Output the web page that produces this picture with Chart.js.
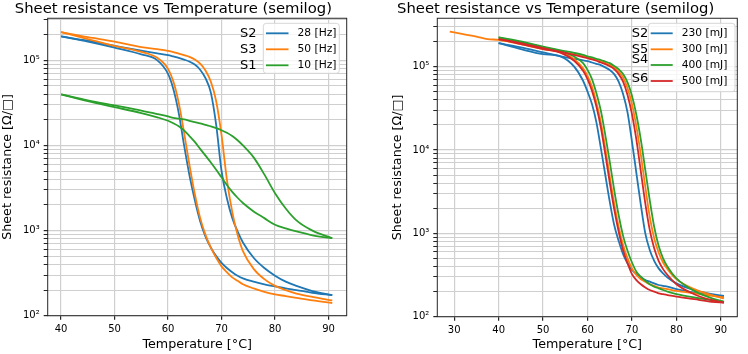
<!DOCTYPE html>
<html>
<head>
<meta charset="utf-8">
<script src="https://cdn.jsdelivr.net/npm/chart.js@4.4.1/dist/chart.umd.min.js"></script>
<style>
  html, body { margin: 0; padding: 0; background: #fff; }
  #wrap { display: flex; width: 748px; height: 354px; }
  canvas { display: block; }
</style>
</head>
<body>
<div id="wrap">
  <canvas id="left" width="374" height="354"></canvas>
  <canvas id="right" width="374" height="354"></canvas>
</div>
<script>
// temperatures [°C]
var tempL = [40, 45, 50, 55, 58, 60, 61, 62, 63, 64, 65, 66, 67, 68, 69, 70, 71, 72, 73, 74, 76, 78, 80, 82, 84, 87, 90.7];
var tempR = [40, 45, 50, 54, 57, 59, 60, 61, 62, 63, 64, 65, 66, 67, 68, 69, 70, 71, 72, 73, 74, 75, 76, 77, 78, 80, 84, 88, 90.7];
var tempS5lead = [29, 32, 35, 37.5];

// sheet resistance [Ω/□] - left panel (pulse frequency)
var s2HzHeat = [191000, 170000, 148000, 130000, 121000, 115000, 111000, 107000, 102000, 96600, 89100, 77600, 61700, 41700, 17400, 5010, 2400, 1410, 977, 724, 479, 363, 295, 251, 224, 195, 174];
var s2HzCool = [191000, 166000, 141000, 117500, 100000, 69200, 45700, 24000, 10000, 4470, 2290, 1290, 851, 631, 501, 417, 363, 324, 295, 275, 251, 234, 221, 209, 200, 186, 174];
var s3HzHeat = [214000, 187000, 166000, 143000, 135000, 129000, 125000, 120000, 115000, 110000, 102000, 91200, 75900, 56200, 33100, 13200, 3980, 1660, 891, 575, 355, 269, 224, 200, 182, 166, 151];
var s3HzCool = [214000, 178000, 148000, 126000, 107000, 79400, 56200, 31600, 14100, 5890, 2690, 1410, 891, 631, 479, 380, 324, 282, 257, 234, 209, 191, 178, 170, 162, 151, 141];
var s1HzHeat = [39800, 33900, 29500, 25700, 23400, 21900, 21100, 20700, 20200, 19500, 18800, 18200, 17400, 16800, 16000, 15100, 14100, 12900, 11500, 10000, 7240, 4570, 2750, 1820, 1320, 1000, 813];
var s1HzCool = [39800, 33100, 28200, 24000, 21400, 19500, 18200, 16800, 15000, 12900, 11000, 9120, 7590, 6310, 5190, 4220, 3430, 2850, 2430, 2110, 1680, 1400, 1170, 1060, 977, 881, 813];

// sheet resistance [Ω/□] - right panel (pulse energy)
var s2mJHeat = [191000, 170000, 148000, 133000, 124000, 119000, 116000, 112000, 108000, 104000, 97700, 91200, 81300, 66100, 46800, 28200, 12600, 5250, 2190, 1000, 631, 468, 380, 331, 295, 251, 209, 186, 178];
var s2mJCool = [191000, 162000, 141000, 132000, 100000, 67600, 50100, 35500, 21400, 10500, 5010, 2400, 1260, 813, 562, 437, 363, 324, 295, 275, 263, 251, 240, 234, 229, 214, 195, 182, 174];
var s5mJHeat = [209000, 191000, 166000, 151000, 141000, 133000, 129000, 124000, 120000, 116000, 111000, 105000, 97700, 87100, 74100, 55000, 35500, 19100, 8710, 3630, 1580, 871, 589, 447, 372, 282, 214, 182, 166];
var s5mJCool = [209000, 186000, 162000, 148000, 123000, 95500, 77600, 57500, 37200, 21400, 10500, 4790, 2290, 1200, 724, 501, 380, 316, 282, 263, 245, 234, 224, 219, 214, 204, 191, 178, 170];
var s5mJLead = [263000, 245000, 229000, 214000];
var s4mJHeat = [224000, 200000, 174000, 157000, 146000, 138000, 133000, 129000, 124000, 120000, 115000, 110000, 102000, 93300, 81300, 64600, 44700, 26300, 13200, 5750, 2510, 1200, 708, 501, 398, 288, 204, 166, 151];
var s4mJCool = [224000, 195000, 170000, 153000, 132000, 110000, 91200, 70800, 47900, 29500, 15100, 7240, 3310, 1660, 933, 617, 447, 347, 302, 269, 245, 229, 219, 209, 200, 186, 170, 158, 151];
var s6mJHeat = [214000, 191000, 166000, 150000, 138000, 130000, 126000, 122000, 117500, 112000, 107000, 101000, 93300, 81300, 66100, 45700, 26900, 13200, 5500, 2290, 1100, 661, 468, 372, 316, 245, 186, 158, 148];
var s6mJCool = [214000, 186000, 162000, 146000, 117500, 89100, 70800, 51300, 33100, 18600, 8910, 4070, 1950, 1050, 631, 437, 324, 275, 245, 224, 209, 200, 191, 186, 182, 174, 162, 151, 148];

// ticks
var xTicksL = [40, 50, 60, 70, 80, 90];
var xTicksR = [30, 40, 50, 60, 70, 80, 90];
var yTicks = [100, 200, 300, 400, 500, 600, 700, 800, 900,
              1000, 2000, 3000, 4000, 5000, 6000, 7000, 8000, 9000,
              10000, 20000, 30000, 40000, 50000, 60000, 70000, 80000, 90000,
              100000, 200000, 300000];

var BLUE = '#1f77b4', ORANGE = '#ff7f0e', GREEN = '#2ca02c', RED = '#d62728';
var FONT = 'DejaVu Sans';
var SUP = { 2: '\u00b2', 3: '\u00b3', 4: '\u2074', 5: '\u2075' };

function isDecade(v) {
    var e = Math.log10(v);
    return Math.abs(e - Math.round(e)) < 1e-9;
}

function branch(label, color, temps, vals, order) {
    return {
        label: label,
        data: temps.map(function (t, i) { return { x: t, y: vals[i] }; }),
        borderColor: color,
        backgroundColor: color,
        borderWidth: 1.8,
        showLine: true,
        pointRadius: 0,
        cubicInterpolationMode: 'monotone',
        order: order
    };
}

// frame round the plot area (matplotlib spines)
var framePlugin = {
    id: 'frame',
    afterDatasetsDraw: function (chart) {
        var a = chart.chartArea, ctx = chart.ctx;
        ctx.save();
        ctx.strokeStyle = '#262626';
        ctx.lineWidth = 1;
        ctx.strokeRect(a.left, a.top, a.right - a.left, a.bottom - a.top);
        ctx.restore();
    }
};

// legend inside the axes + the sample names written beside it
var boxLegend = {
    id: 'boxLegend',
    afterDraw: function (chart, args, o) {
        var ctx = chart.ctx, b = o.box, r = 3;
        ctx.save();
        ctx.beginPath();
        ctx.moveTo(b.x + r, b.y);
        ctx.lineTo(b.x + b.w - r, b.y);
        ctx.quadraticCurveTo(b.x + b.w, b.y, b.x + b.w, b.y + r);
        ctx.lineTo(b.x + b.w, b.y + b.h - r);
        ctx.quadraticCurveTo(b.x + b.w, b.y + b.h, b.x + b.w - r, b.y + b.h);
        ctx.lineTo(b.x + r, b.y + b.h);
        ctx.quadraticCurveTo(b.x, b.y + b.h, b.x, b.y + b.h - r);
        ctx.lineTo(b.x, b.y + r);
        ctx.quadraticCurveTo(b.x, b.y, b.x + r, b.y);
        ctx.closePath();
        ctx.fillStyle = 'rgba(255,255,255,0.8)';
        ctx.fill();
        ctx.strokeStyle = '#d6d6d6';
        ctx.lineWidth = 1;
        ctx.stroke();

        var items = chart.data.datasets.filter(function (d) { return d.label; });
        ctx.font = o.fontSize + 'px "' + FONT + '"';
        ctx.textBaseline = 'middle';
        ctx.textAlign = 'left';
        items.forEach(function (d, i) {
            var y = o.rows[i];
            ctx.strokeStyle = d.borderColor;
            ctx.lineWidth = 1.8;
            ctx.beginPath();
            ctx.moveTo(o.lineX[0], y);
            ctx.lineTo(o.lineX[1], y);
            ctx.stroke();
            ctx.fillStyle = '#000';
            ctx.fillText(d.label, o.textX, y);
        });

        ctx.font = o.nameSize + 'px "' + FONT + '"';
        ctx.fillStyle = '#000';
        o.names.forEach(function (n, i) {
            ctx.fillText(n, o.nameX, o.nameY[i]);
        });
        ctx.restore();
    }
};

function makeChart(id, c) {
    return new Chart(document.getElementById(id), {
        type: 'scatter',
        data: { datasets: c.datasets },
        plugins: [framePlugin, boxLegend],
        options: {
            responsive: false,
            animation: false,
            devicePixelRatio: 1,
            layout: { padding: { left: 0, right: c.padRight, top: 0.5, bottom: 0 } },
            plugins: {
                legend: { display: false },
                tooltip: { enabled: false },
                title: {
                    display: true,
                    text: 'Sheet resistance vs Temperature (semilog)',
                    color: '#000',
                    font: { family: FONT, size: 14.8, weight: 'normal' },
                    padding: { top: 0, bottom: 0 }
                },
                boxLegend: c.legend
            },
            scales: {
                x: {
                    type: 'linear',
                    min: c.xMin,
                    max: c.xMax,
                    afterBuildTicks: function (s) {
                        s.ticks = c.xTicks.map(function (v) { return { value: v }; });
                    },
                    afterFit: function (s) {
                        s.height = c.xHeight;
                        s.paddingLeft = 0;
                        s.paddingRight = 0;
                    },
                    ticks: {
                        color: '#000',
                        font: { family: FONT, size: 10 },
                        padding: 4,
                        autoSkip: false,
                        maxRotation: 0
                    },
                    grid: { color: '#cfcfcf', lineWidth: 1.2, tickColor: '#262626', tickLength: 4 },
                    border: { display: false },
                    title: {
                        display: true,
                        text: 'Temperature [°C]',
                        color: '#000',
                        font: { family: FONT, size: 12.7 },
                        padding: { top: 0, bottom: 2 }
                    }
                },
                y: {
                    type: 'logarithmic',
                    min: 100,
                    max: c.yMax,
                    afterBuildTicks: function (s) {
                        s.ticks = yTicks.filter(function (v) { return v <= c.yMax; })
                            .map(function (v) { return { value: v, major: isDecade(v) }; });
                    },
                    afterFit: function (s) {
                        s.width = c.yWidth;
                        s.paddingTop = 0;
                        s.paddingBottom = 0;
                    },
                    ticks: {
                        color: '#000',
                        font: { family: FONT, size: 10 },
                        padding: 4,
                        autoSkip: false,
                        callback: function (v) {
                            return isDecade(v) ? '10' + SUP[Math.round(Math.log10(v))] : '';
                        }
                    },
                    grid: {
                        color: '#cfcfcf',
                        lineWidth: function (ctx) { return ctx.tick && isDecade(ctx.tick.value) ? 1.2 : 1; },
                        tickColor: '#262626',
                        tickLength: 4
                    },
                    border: { display: false },
                    title: {
                        display: true,
                        text: 'Sheet resistance [Ω/□]',
                        color: '#000',
                        font: { family: FONT, size: 12.7 },
                        padding: { top: c.yTitlePad, bottom: 0 }
                    }
                }
            }
        }
    });
}

makeChart('left', {
    datasets: [
        branch('28 [Hz]', BLUE, tempL, s2HzHeat, 6),
        branch('', BLUE, tempL, s2HzCool, 5),
        branch('50 [Hz]', ORANGE, tempL, s3HzHeat, 4),
        branch('', ORANGE, tempL, s3HzCool, 3),
        branch('10 [Hz]', GREEN, tempL, s1HzHeat, 2),
        branch('', GREEN, tempL, s1HzCool, 1)
    ],
    xMin: 37.5, xMax: 93.4, xTicks: xTicksL, yMax: 312000,
    padRight: 27.3, yWidth: 47.7, xHeight: 38.3, yTitlePad: 0,
    legend: {
        box: { x: 263.3, y: 23.3, w: 76, h: 50 },
        rows: [33.3, 49.3, 65.3],
        lineX: [266, 288.5],
        textX: 297.5,
        fontSize: 10.7,
        names: ['S2', 'S3', 'S1'],
        nameX: 240,
        nameY: [33.3, 50, 66],
        nameSize: 13
    }
});

makeChart('right', {
    datasets: [
        branch('230 [mJ]', BLUE, tempR, s2mJHeat, 8),
        branch('', BLUE, tempR, s2mJCool, 7),
        branch('300 [mJ]', ORANGE, tempR, s5mJHeat, 6),
        branch('', ORANGE, tempS5lead.concat(tempR), s5mJLead.concat(s5mJCool), 5),
        branch('400 [mJ]', GREEN, tempR, s4mJHeat, 4),
        branch('', GREEN, tempR, s4mJCool, 3),
        branch('500 [mJ]', RED, tempR, s6mJHeat, 2),
        branch('', RED, tempR, s6mJCool, 1)
    ],
    xMin: 26.2, xMax: 93.7, xTicks: xTicksR, yMax: 380000,
    padRight: 10.7, yWidth: 63.3, xHeight: 37.3, yTitlePad: 15.7,
    legend: {
        box: { x: 274.3, y: 23.3, w: 86.7, h: 68.4 },
        rows: [33.3, 49.3, 65.0, 81.0],
        lineX: [276.7, 298.7],
        textX: 307.7,
        fontSize: 10.7,
        names: ['S2', 'S5', 'S4', 'S6'],
        nameX: 257.7,
        nameY: [33.3, 49.3, 60, 78.3],
        nameSize: 13
    }
});
</script>
</body>
</html>
